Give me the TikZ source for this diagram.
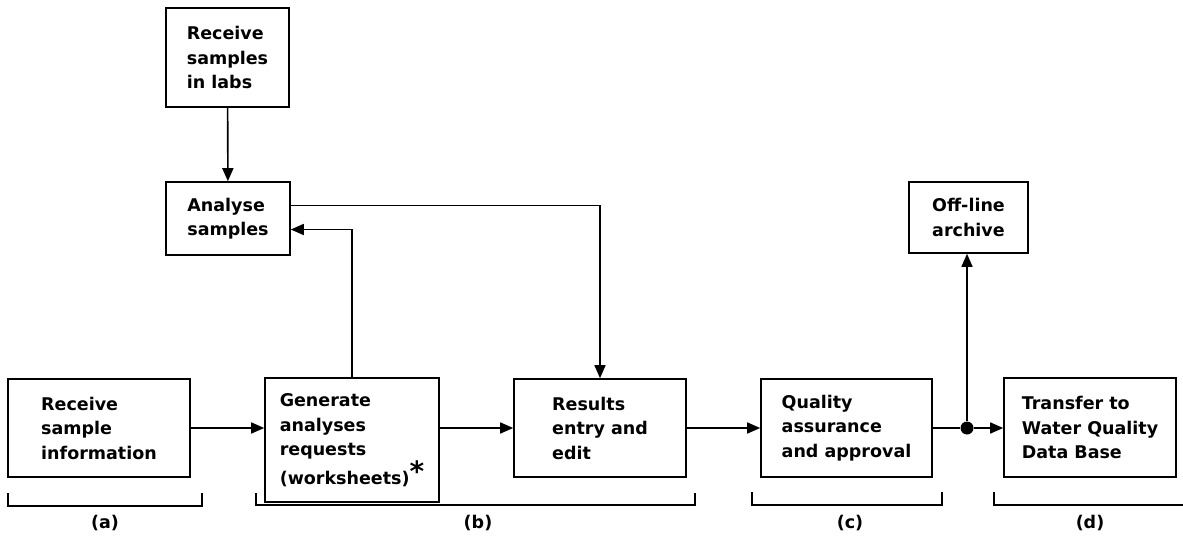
\documentclass[tikz,border=0pt]{standalone}
\usepackage{fontspec}
\setmainfont{DejaVu Sans}
\usetikzlibrary{arrows.meta,positioning}

\begin{document}
\begin{tikzpicture}[x=1pt, y=-1pt,
  box/.style={draw, line width=1.6pt, align=left, inner sep=0pt,
              font=\fontsize{17.5}{24.5}\selectfont\bfseries},
  lbl/.style={font=\fontsize{17.5}{24}\selectfont\bfseries},
  arr/.style={-{Triangle[length=13pt,width=11pt]}, line width=1.6pt},
  ln/.style={line width=1.6pt},
  brk/.style={line width=1.6pt},
]
  \useasboundingbox (0,0) rectangle (1183,538);

  % lab side
  \node[box, minimum width=123pt, minimum height=99pt] (labs) at (227.5,57.5)
        {Receive\\samples\\in labs};
  \node[box, minimum width=124pt, minimum height=73pt] (anal) at (228,218.5)
        {Analyse\\samples};

  % main flow
  \node[box, minimum width=182pt, minimum height=98pt] (recv) at (99,428)
        {Receive\\sample\\information};
  \node[box, minimum width=174pt, minimum height=124pt] (gen) at (352,440)
        {Generate\\analyses\\requests\\(worksheets)\raisebox{3pt}{\fontsize{28}{28}\selectfont\bfseries *}};
  \node[box, minimum width=172pt, minimum height=98pt] (res) at (600,428)
        {Results\\entry and\\edit};
  \node[box, minimum width=171pt, minimum height=98pt] (qa) at (846.5,428)
        {Quality\\assurance\\and approval};
  \node[box, minimum width=172pt, minimum height=99pt] (xfer) at (1090,427.5)
        {Transfer to\\Water Quality\\Data Base};
  \node[box, minimum width=119pt, minimum height=71pt] (arch) at (968.5,217.5)
        {Off-line\\archive};
  \node[circle, fill, inner sep=0pt, minimum size=13pt] (dot) at (967,428) {};

  % Arrows
  \draw[arr] (labs) -- (anal);
  \draw[arr] ([yshift=13pt]anal.east) -| (res.north);
  \draw[arr] (gen.north) |- ([yshift=-11pt]anal.east);
  \draw[arr] (recv.east) -- (recv.east -| gen.west);
  \draw[arr] (res.west -| gen.east) -- (res.west);
  \draw[arr] (res) -- (qa);
  \draw[ln] (qa.east) -- (dot);
  \draw[arr] (dot) -- (dot -| xfer.west);
  \draw[arr] (dot) -- (dot |- arch.south);

  % Brackets
  \draw[brk] (8,493) |- (202,506) -- (202,493);
  \draw[brk] (256,493) |- (695,505) -- (695,493);
  \draw[brk] (752,492) |- (942,505) -- (942,492);
  \draw[brk] (994,492) |- (1183,505);
  \node[lbl] (la) at (105,523) {(a)};
  \node[lbl] (lb) at (478,523) {(b)};
  \node[lbl] (lc) at (850,523) {(c)};
  \node[lbl] (ld) at (1090,523) {(d)};

\end{tikzpicture}
\end{document}
